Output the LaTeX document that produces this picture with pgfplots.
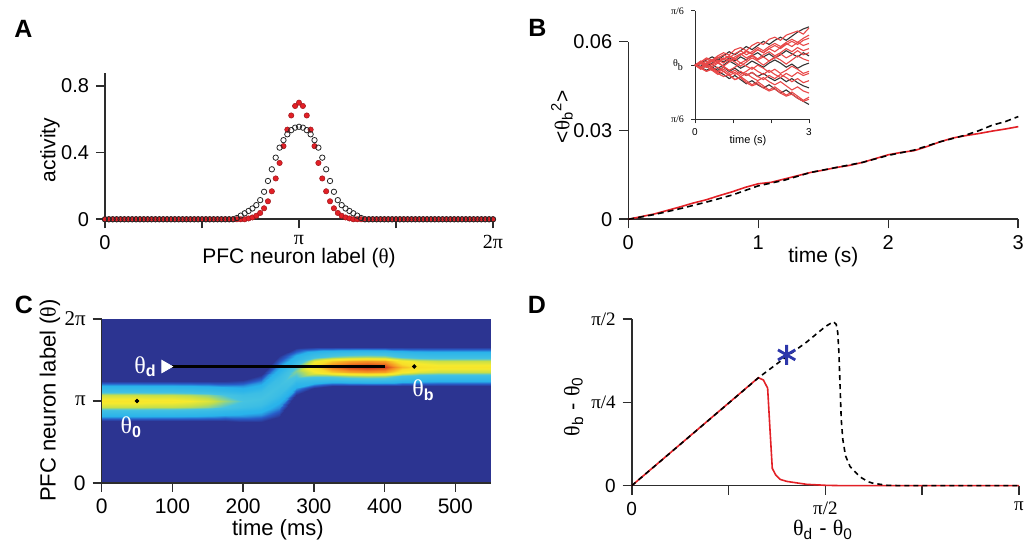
\documentclass[border=0pt]{standalone}
\usepackage{pgfplots}
\pgfplotsset{compat=1.18}
\usepackage{pgfplotstable}
\usepackage{fontspec}
\setmainfont{Liberation Sans}
\newfontfamily\sy{Liberation Serif}
\definecolor{pred}{RGB}{226,32,38}
\definecolor{tred}{RGB}{232,72,72}
\definecolor{axk}{RGB}{45,45,45}
\definecolor{navy}{RGB}{44,52,145}
\definecolor{starblue}{RGB}{45,55,170}

\pgfplotsset{
  panel/.style={
    scale only axis, axis lines*=left, enlargelimits=false,
    axis line style={axk, line width=0.8pt},
    tick style={axk, line width=0.8pt},
    tick align=outside, major tick length=4.5pt,
    scaled ticks=false,
    /pgf/number format/assume math mode=true,
    tick label style={font=\fontsize{10}{12}\selectfont},
    label style={font=\fontsize{10.5}{12}\selectfont},
    clip=false,
  },
}

% panel A: activity profiles (x in units of pi)
\pgfplotstableread{
x r k
0.00 0 0
0.02 0 0
0.04 0 0
0.06 0 0
0.08 0 0
0.10 0 0
0.12 0 0
0.14 0 0
0.16 0 0
0.18 0 0
0.20 0 0
0.22 0 0
0.24 0 0
0.26 0 0
0.28 0 0
0.30 0 0
0.32 0 0
0.34 0 0
0.36 0 0
0.38 0 0
0.40 0 0
0.42 0 0
0.44 0 0
0.46 0 0
0.48 0 0
0.50 0 0
0.52 0 0
0.54 0 0
0.56 0 0
0.58 0 0
0.60 0 0
0.62 0 0
0.64 0 0
0.66 0 0
0.68 0 0.008
0.70 0 0.022
0.72 0 0.036
0.74 0.005 0.050
0.76 0.011 0.065
0.78 0.021 0.085
0.80 0.038 0.115
0.82 0.066 0.165
0.84 0.108 0.230
0.86 0.168 0.300
0.88 0.245 0.370
0.90 0.338 0.430
0.92 0.439 0.475
0.94 0.538 0.510
0.96 0.623 0.535
0.98 0.680 0.550
1.00 0.700 0.555
1.02 0.680 0.550
1.04 0.623 0.535
1.06 0.538 0.510
1.08 0.439 0.475
1.10 0.338 0.430
1.12 0.245 0.370
1.14 0.168 0.300
1.16 0.108 0.230
1.18 0.066 0.165
1.20 0.038 0.115
1.22 0.021 0.085
1.24 0.011 0.065
1.26 0.005 0.050
1.28 0 0.036
1.30 0 0.022
1.32 0 0.008
1.34 0 0
1.36 0 0
1.38 0 0
1.40 0 0
1.42 0 0
1.44 0 0
1.46 0 0
1.48 0 0
1.50 0 0
1.52 0 0
1.54 0 0
1.56 0 0
1.58 0 0
1.60 0 0
1.62 0 0
1.64 0 0
1.66 0 0
1.68 0 0
1.70 0 0
1.72 0 0
1.74 0 0
1.76 0 0
1.78 0 0
1.80 0 0
1.82 0 0
1.84 0 0
1.86 0 0
1.88 0 0
1.90 0 0
1.92 0 0
1.94 0 0
1.96 0 0
1.98 0 0
2.00 0 0
}\actA

% panel B inset: single-trial bump positions
\pgfplotstableread{
t r1 r2 r3 r4 r5 r6 r7 r8 r9 r10 r11 r12 r13 k1 k2 k3 k4 k5
0 0 0 0 0 0 0 0 0 0 0 0 0 0 0 0 0 0 0
0.15 0.03 -0.02 0.04 -0.03 0.02 -0.02 0.02 -0.03 0.03 -0.04 0.01 0.03 -0.03 0.02 -0.02 0.03 -0.01 0.02
0.30 0.07 -0.06 0.01 0.01 -0.02 0.02 -0.01 0.01 0.06 -0.01 0.04 0.00 -0.06 0.05 -0.05 -0.01 0.02 -0.02
0.45 0.05 -0.04 0.05 -0.03 0.01 0.05 -0.05 -0.02 0.03 -0.05 0.00 0.04 -0.03 0.08 -0.02 0.02 -0.02 0.01
0.60 0.09 -0.08 0.03 -0.06 0.05 0.02 -0.02 0.02 0.07 -0.09 0.03 0.08 -0.07 0.05 -0.06 0.06 -0.05 -0.03
0.75 0.12 -0.11 0.07 -0.02 0.02 0.06 -0.06 -0.01 0.10 -0.06 -0.01 0.05 -0.04 0.09 -0.09 0.03 -0.02 0.00
0.90 0.10 -0.09 0.04 -0.05 0.06 0.09 -0.10 -0.05 0.07 -0.10 0.03 0.09 -0.08 0.13 -0.13 0.07 -0.06 0.04
1.05 0.15 -0.14 0.08 -0.09 0.03 0.06 -0.07 -0.02 0.11 -0.14 0.06 0.06 -0.05 0.10 -0.10 0.04 -0.03 0.01
1.20 0.17 -0.12 0.11 -0.06 -0.01 0.10 -0.11 0.02 0.14 -0.11 0.02 0.10 -0.09 0.14 -0.14 0.08 -0.07 -0.03
1.35 0.14 -0.17 0.07 -0.10 0.03 0.13 -0.08 -0.01 0.10 -0.15 0.05 0.14 -0.06 0.18 -0.18 0.05 -0.10 0.00
1.50 0.19 -0.20 0.10 -0.07 0.07 0.11 -0.12 -0.04 0.13 -0.19 0.09 0.11 -0.02 0.15 -0.15 0.09 -0.07 0.04
1.65 0.22 -0.18 0.06 -0.11 0.04 0.15 -0.15 0.00 0.17 -0.16 0.05 0.15 -0.06 0.19 -0.19 0.12 -0.11 0.01
1.80 0.20 -0.22 0.10 -0.14 0.00 0.12 -0.12 -0.03 0.14 -0.20 0.08 0.12 -0.09 0.23 -0.22 0.08 -0.08 -0.02
1.95 0.25 -0.25 0.13 -0.10 0.04 0.16 -0.16 -0.07 0.18 -0.24 0.04 0.16 -0.05 0.20 -0.19 0.11 -0.12 0.02
2.10 0.27 -0.23 0.09 -0.13 0.08 0.19 -0.19 -0.04 0.21 -0.21 0.07 0.13 -0.09 0.24 -0.23 0.07 -0.15 0.05
2.25 0.24 -0.27 0.12 -0.09 0.05 0.16 -0.16 -0.08 0.18 -0.25 0.11 0.17 -0.12 0.27 -0.27 0.10 -0.12 0.02
2.40 0.29 -0.30 0.16 -0.12 0.01 0.20 -0.20 -0.05 0.22 -0.29 0.07 0.21 -0.08 0.24 -0.24 0.14 -0.16 -0.02
2.55 0.31 -0.28 0.13 -0.16 0.05 0.23 -0.24 -0.01 0.25 -0.26 0.10 0.18 -0.11 0.28 -0.28 0.11 -0.13 0.01
2.70 0.33 -0.32 0.17 -0.13 0.09 0.20 -0.21 -0.04 0.22 -0.30 0.14 0.22 -0.07 0.32 -0.32 0.08 -0.17 -0.03
2.85 0.30 -0.35 0.14 -0.17 0.06 0.24 -0.25 -0.08 0.26 -0.34 0.10 0.19 -0.10 0.35 -0.35 0.12 -0.20 0.00
3.00 0.36 -0.33 0.16 -0.15 0.04 0.26 -0.27 -0.06 0.29 -0.31 0.12 0.21 -0.08 0.37 -0.38 0.09 -0.22 0.02
}\inset

% panel C: bump activity, one scanline per time column (y in units of pi)
\pgfplotstableread{
t y c
0 0.76 0
0 0.83 0.255
0 0.88 0.369
0 0.93 0.570
0 1.00 0.67
0 1.07 0.570
0 1.12 0.369
0 1.17 0.255
0 1.24 0
25 0.76 0
25 0.83 0.255
25 0.88 0.369
25 0.93 0.570
25 1.00 0.67
25 1.07 0.570
25 1.12 0.369
25 1.17 0.255
25 1.24 0
50 0.76 0
50 0.83 0.255
50 0.88 0.369
50 0.93 0.570
50 1.00 0.67
50 1.07 0.570
50 1.12 0.369
50 1.17 0.255
50 1.24 0
75 0.76 0
75 0.83 0.251
75 0.88 0.363
75 0.93 0.561
75 1.00 0.66
75 1.07 0.561
75 1.12 0.363
75 1.17 0.251
75 1.24 0
100 0.76 0
100 0.83 0.251
100 0.88 0.363
100 0.93 0.561
100 1.00 0.66
100 1.07 0.561
100 1.12 0.363
100 1.17 0.251
100 1.24 0
125 0.76 0
125 0.83 0.243
125 0.88 0.352
125 0.93 0.544
125 1.00 0.64
125 1.07 0.544
125 1.12 0.352
125 1.17 0.243
125 1.24 0
150 0.76 0
150 0.83 0.228
150 0.88 0.330
150 0.93 0.510
150 1.00 0.60
150 1.07 0.510
150 1.12 0.330
150 1.17 0.228
150 1.24 0
175 0.76 0
175 0.83 0.198
175 0.88 0.286
175 0.93 0.442
175 1.00 0.52
175 1.07 0.442
175 1.12 0.286
175 1.17 0.198
175 1.24 0
200 0.748 0
200 0.822 0.167
200 0.874 0.242
200 0.927 0.374
200 1.000 0.44
200 1.074 0.374
200 1.126 0.242
200 1.179 0.167
200 1.252 0
225 0.742 0
225 0.826 0.160
225 0.886 0.231
225 0.946 0.357
225 1.030 0.42
225 1.114 0.357
225 1.174 0.231
225 1.234 0.160
225 1.318 0
250 0.808 0
250 0.917 0.152
250 0.994 0.220
250 1.072 0.340
250 1.180 0.40
250 1.289 0.340
250 1.366 0.220
250 1.444 0.152
250 1.552 0
275 1.072 0
275 1.156 0.190
275 1.216 0.275
275 1.276 0.425
275 1.360 0.50
275 1.444 0.425
275 1.504 0.275
275 1.564 0.190
275 1.648 0
300 1.158 0
300 1.232 0.274
300 1.284 0.396
300 1.337 0.612
300 1.410 0.72
300 1.484 0.612
300 1.536 0.396
300 1.589 0.274
300 1.662 0
325 1.18 0
325 1.25 0.334
325 1.30 0.484
325 1.35 0.748
325 1.42 0.88
325 1.49 0.748
325 1.54 0.484
325 1.59 0.334
325 1.66 0
350 1.18 0
350 1.25 0.361
350 1.30 0.523
350 1.35 0.808
350 1.42 0.95
350 1.49 0.808
350 1.54 0.523
350 1.59 0.361
350 1.66 0
375 1.18 0
375 1.25 0.372
375 1.30 0.539
375 1.35 0.833
375 1.42 0.98
375 1.49 0.833
375 1.54 0.539
375 1.59 0.372
375 1.66 0
400 1.18 0
400 1.25 0.365
400 1.30 0.528
400 1.35 0.816
400 1.42 0.96
400 1.49 0.816
400 1.54 0.528
400 1.59 0.365
400 1.66 0
425 1.18 0
425 1.25 0.296
425 1.30 0.429
425 1.35 0.663
425 1.42 0.78
425 1.49 0.663
425 1.54 0.429
425 1.59 0.296
425 1.66 0
450 1.18 0
450 1.25 0.266
450 1.30 0.385
450 1.35 0.595
450 1.42 0.70
450 1.49 0.595
450 1.54 0.385
450 1.59 0.266
450 1.66 0
475 1.18 0
475 1.25 0.255
475 1.30 0.369
475 1.35 0.570
475 1.42 0.67
475 1.49 0.570
475 1.54 0.369
475 1.59 0.255
475 1.66 0
500 1.18 0
500 1.25 0.255
500 1.30 0.369
500 1.35 0.570
500 1.42 0.67
500 1.49 0.570
500 1.54 0.369
500 1.59 0.255
500 1.66 0
525 1.18 0
525 1.25 0.255
525 1.30 0.369
525 1.35 0.570
525 1.42 0.67
525 1.49 0.570
525 1.54 0.369
525 1.59 0.255
525 1.66 0
550 1.18 0
550 1.25 0.255
550 1.30 0.369
550 1.35 0.570
550 1.42 0.67
550 1.49 0.570
550 1.54 0.369
550 1.59 0.255
550 1.66 0
}\heat

\begin{document}
\begin{tikzpicture}
\useasboundingbox (0,0) rectangle (512.5pt,272pt);

% ---------- A ----------
\begin{axis}[panel, at={(52.5pt,162.35pt)}, anchor=south west,
  width=194pt, height=73.15pt,
  xmin=0, xmax=2, ymin=0, ymax=0.878,
  xtick={0,0.5,1,1.5,2}, xticklabels={0,,{\sy π},,{\sy 2π}},
  ytick={0,0.4,0.8}, yticklabels={0,0.4,0.8},
  xlabel={PFC neuron label ({\sy θ})}, ylabel={activity},
  xlabel style={at={(axis description cs:0.5,-0.265)}, anchor=center},
  ylabel style={at={(axis description cs:-0.142,0.474)}, anchor=center}]
\addplot[only marks, mark=*, mark size=1.35pt,
  mark options={fill=pred, draw=pred!70!black, line width=0.25pt}] table[x=x, y=r] {\actA};
\addplot[only marks, mark=o, mark size=1.35pt,
  mark options={draw=black!85, line width=0.4pt}] table[x=x, y=k] {\actA};
\end{axis}

% ---------- B ----------
\begin{axis}[panel, at={(314.15pt,162.35pt)}, anchor=south west,
  width=195pt, height=88.8pt,
  xmin=0, xmax=3, ymin=0, ymax=0.06,
  xtick={0,1,2,3}, xticklabels={0,1,2,3},
  ytick={0,0.03,0.06}, yticklabels={0,0.03,0.06},
  xlabel={time (s)}, ylabel={<{\sy θ}\textsubscript{b}\textsuperscript{2}>},
  xlabel style={at={(axis description cs:0.5,-0.212)}, anchor=center},
  ylabel style={at={(axis description cs:-0.17,0.578)}, anchor=center}]
\addplot[pred, line width=0.8pt] coordinates {
  (0,0) (0.1,0.0009) (0.2,0.0018) (0.3,0.0030) (0.4,0.0042) (0.5,0.0055)
  (0.6,0.0066) (0.7,0.0080) (0.8,0.0093) (0.9,0.0108) (1.0,0.0120) (1.1,0.0125)
  (1.2,0.0136) (1.3,0.0147) (1.4,0.0158) (1.5,0.0166) (1.6,0.0175) (1.7,0.0182)
  (1.8,0.0192) (1.9,0.0205) (2.0,0.0218) (2.1,0.0226) (2.2,0.0232) (2.3,0.0246)
  (2.4,0.0262) (2.5,0.0275) (2.6,0.0283) (2.7,0.0290) (2.8,0.0298) (2.9,0.0305) (3.0,0.0313)};
\addplot[black, line width=0.8pt, dash pattern=on 3pt off 2pt] coordinates {
  (0,0) (0.2,0.0016) (0.4,0.0036) (0.6,0.0058) (0.8,0.0082) (1.0,0.0113)
  (1.2,0.0132) (1.4,0.0158) (1.6,0.0175) (1.8,0.0192) (2.0,0.0216) (2.2,0.0234)
  (2.4,0.0262) (2.6,0.0285) (2.7,0.0300) (2.8,0.0318) (2.9,0.0330) (3.0,0.0347)};
\end{axis}

% inset of B
\begin{axis}[panel, at={(347.5pt,212.35pt)}, anchor=south west,
  width=57pt, height=54.15pt,
  axis line style={axk, line width=0.5pt}, tick style={axk, line width=0.5pt},
  major tick length=2pt,
  xmin=0, xmax=3, ymin=-0.5236, ymax=0.5236,
  xtick={0,1,2,3}, xticklabels={0,,,3},
  ytick={-0.5236,0,0.5236},
  yticklabels={{\sy π/6},{\sy θ\textsubscript{b}},{\sy π/6}},
  tick label style={font=\fontsize{5}{6}\selectfont},
  xticklabel style={yshift=1pt},
  label style={font=\fontsize{5.5}{6}\selectfont},
  xlabel={time (s)},
  xlabel style={at={(axis description cs:0.465,-0.2)}, anchor=center}]
\pgfplotsinvokeforeach{1,...,5}{
  \addplot[black!80, line width=0.55pt] table[x=t, y=k#1] {\inset};
}
\pgfplotsinvokeforeach{1,...,13}{
  \addplot[tred, line width=0.55pt] table[x=t, y=r#1] {\inset};
}
\end{axis}

% ---------- C ----------
\begin{axis}[panel, at={(50.85pt,30.5pt)}, anchor=south west,
  width=194.5pt, height=82pt,
  xmin=0, xmax=550, ymin=0, ymax=2, clip=true, axis on top,
  axis background/.style={fill=navy},
  colormap={bump}{rgb255(0cm)=(44,52,145); rgb255(2cm)=(40,92,200);
    rgb255(4cm)=(40,178,235); rgb255(8.8cm)=(70,195,225); rgb255(11.2cm)=(195,222,75);
    rgb255(12.8cm)=(246,234,45); rgb255(14.4cm)=(248,222,40); rgb255(17cm)=(245,140,35);
    rgb255(20cm)=(200,30,30)},
  point meta min=0, point meta max=1,
  xtick={0,100,200,300,400,500},
  ytick={0,1,2}, yticklabels={0,{\sy π},{\sy 2π}},
  tick label style={font=\fontsize{10.5}{12}\selectfont},
  label style={font=\fontsize{11}{13}\selectfont},
  xlabel={time (ms)}, ylabel={PFC neuron label ({\sy θ})},
  xlabel style={at={(axis description cs:0.453,-0.285)}, anchor=center},
  ylabel style={at={(axis description cs:-0.133,0.503)}, anchor=center}]
\addplot[surf, shader=interp, mesh/cols=9, mesh/rows=23,
  point meta=\thisrow{c}] table[x=t, y=y] {\heat};
\addplot[black, line width=1.2pt] coordinates {(100,1.42) (400,1.42)};
\addplot[only marks, mark=triangle*, mark size=3.6pt,
  mark options={white, rotate=-90}] coordinates {(90,1.42)};
\addplot[only marks, mark=*, mark size=0.9pt, black] coordinates {(50,1) (442,1.42)};
\node[white, font=\fontsize{12}{14}\selectfont] at (axis cs:62,1.42)
  {{\sy θ}\textsubscript{\bfseries d}};
\node[white, font=\fontsize{12}{14}\selectfont] at (axis cs:42,0.68)
  {{\sy θ}\textsubscript{\bfseries 0}};
\node[white, font=\fontsize{12}{14}\selectfont] at (axis cs:455,1.13)
  {{\sy θ}\textsubscript{\bfseries b}};
\end{axis}

% ---------- D ----------
\begin{axis}[panel, at={(315.85pt,29.15pt)}, anchor=south west,
  width=193.65pt, height=83.2pt,
  xmin=0, xmax=1, ymin=0, ymax=0.5,
  xtick={0,0.25,0.5,0.75,1}, xticklabels={0,,{\sy π/2},,{\sy π}},
  ytick={0,0.25,0.5}, yticklabels={0,{\sy π/4},{\sy π/2}},
  tick label style={font=\fontsize{9.5}{11}\selectfont},
  label style={font=\fontsize{11}{13}\selectfont},
  xlabel={{\sy θ}\textsubscript{d} - {\sy θ}\textsubscript{0}},
  ylabel={{\sy θ}\textsubscript{b} - {\sy θ}\textsubscript{0}},
  xlabel style={at={(axis description cs:0.494,-0.266)}, anchor=center},
  ylabel style={at={(axis description cs:-0.15,0.475)}, anchor=center}]
\addplot[pred, line width=0.8pt] coordinates {
  (0,0) (0.327,0.3245) (0.340,0.3176) (0.351,0.293) (0.357,0.17) (0.363,0.052)
  (0.372,0.032) (0.383,0.019) (0.400,0.013) (0.417,0.010) (0.452,0.004) (0.503,0.001) (0.55,0) (1,0)};
\addplot[black, line width=0.8pt, dash pattern=on 2.5pt off 2pt] coordinates {
  (0,0) (0.329,0.326) (0.40,0.388) (0.45,0.430) (0.50,0.478) (0.5205,0.4928)
  (0.528,0.485) (0.532,0.46) (0.535,0.40) (0.538,0.30) (0.541,0.20) (0.545,0.14)
  (0.552,0.09) (0.564,0.057) (0.589,0.027) (0.61,0.012) (0.624,0.007) (0.66,0.001) (0.7,0) (1,0)};
\addplot[only marks, mark=asterisk, mark size=5pt, starblue,
  mark options={line width=1.4pt}] coordinates {(0.4,0.393)};
\end{axis}

% panel letters
\node[font=\bfseries\fontsize{12.5}{14}\selectfont] at (11.75pt,257.5pt) {A};
\node[font=\bfseries\fontsize{12.5}{14}\selectfont] at (268.75pt,258.25pt) {B};
\node[font=\bfseries\fontsize{12.5}{14}\selectfont] at (12pt,119.5pt) {C};
\node[font=\bfseries\fontsize{12.5}{14}\selectfont] at (268.5pt,119.5pt) {D};
\end{tikzpicture}
\end{document}
